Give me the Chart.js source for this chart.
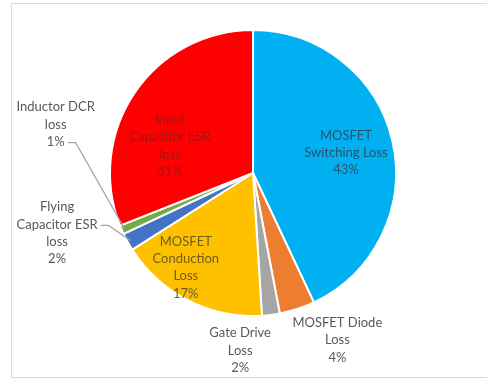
<!DOCTYPE html>
<html>
<head>
<meta charset="utf-8">
<script src="https://cdn.jsdelivr.net/npm/chart.js@4"></script>
<style>
  html, body { margin: 0; padding: 0; background: #fff; }
  #wrap { position: relative; width: 487px; height: 382px; }
  #frame { position: absolute; left: 11px; top: 3px; width: 480px; height: 375px; border: 1px solid #d9d9d9; box-sizing: border-box; }
  canvas { position: absolute; left: 0; top: 0; }
</style>
</head>
<body>
<div id="wrap">
  <div id="frame"></div>
  <canvas id="pie_chart" width="487" height="382"></canvas>
</div>
<script>
// slices, clockwise from 12 o'clock
const categories = [
    ['MOSFET', 'Switching Loss'],
    ['MOSFET Diode', 'Loss'],
    ['Gate Drive', 'Loss'],
    ['MOSFET', 'Conduction', 'Loss'],
    ['Flying', 'Capacitor ESR', 'loss'],
    ['Inductor DCR', 'loss'],
    ['Input', 'Capacitor ESR', 'loss']
];
const shares = [43, 4, 2, 17, 2, 1, 31];

const colors = ['#00b0f0', '#ed7d31', '#a5a5a5', '#ffc000', '#4472c4', '#70ad47', '#ff0000'];

// label block centre, in units of the pie radius from the pie centre
const labelOffsets = [
    [0.65, -0.14],
    [0.59, 1.17],
    [-0.09, 1.24],
    [-0.47, 0.66],
    [-1.37, 0.42],
    [-1.38, -0.34],
    [-0.58, -0.19]
];
const labelColors = ['#24546e', '#595959', '#595959', '#6e5c1c', '#595959', '#595959', '#a01515'];
// leader line: which text line it leaves from, or null
const leaderLine = [null, null, null, null, 1, 2, null];

const lineHeight = 17.3;
const labelFont = '13px Lato, "Liberation Sans", sans-serif';

const labelPlugin = {
    id: 'sliceLabels',
    afterDatasetsDraw(chart) {
        const ctx = chart.ctx;
        const meta = chart.getDatasetMeta(0);
        ctx.save();
        ctx.font = labelFont;
        ctx.textAlign = 'center';
        ctx.textBaseline = 'middle';
        meta.data.forEach((arc, i) => {
            const r = arc.outerRadius;
            const cx = arc.x + labelOffsets[i][0] * r;
            const cy = arc.y + labelOffsets[i][1] * r;
            const lines = categories[i].concat([shares[i] + '%']);
            const top = cy - (lines.length - 1) * lineHeight / 2;

            if (leaderLine[i] !== null) {
                const li = leaderLine[i];
                const ly = top + li * lineHeight;
                const w = ctx.measureText(lines[li]).width;
                const mid = (arc.startAngle + arc.endAngle) / 2;
                const ex = arc.x + Math.cos(mid) * (r - 3);
                const ey = arc.y + Math.sin(mid) * (r - 3);
                ctx.strokeStyle = '#a5a5a5';
                ctx.lineWidth = 1.2;
                ctx.beginPath();
                ctx.moveTo(cx + w / 2 + 3, ly + 1);
                ctx.lineTo(cx + w / 2 + 11, ly + 1);
                ctx.lineTo(ex, ey);
                ctx.stroke();
            }

            ctx.fillStyle = labelColors[i];
            lines.forEach((t, k) => {
                ctx.fillText(t, cx, top + k * lineHeight);
            });
        });
        ctx.restore();
    }
};

const ctx = document.getElementById('pie_chart').getContext('2d');
const pieChart = new Chart(ctx, {
    type: 'pie',
    data: {
        labels: categories.map(c => c.join(' ')),
        datasets: [{
            data: shares,
            backgroundColor: colors,
            borderColor: '#ffffff',
            borderWidth: 2
        }]
    },
    options: {
        responsive: false,
        animation: false,
        layout: {
            padding: { top: 29, bottom: 65, left: 109, right: 90 }
        },
        plugins: {
            legend: { display: false },
            tooltip: { enabled: false }
        }
    },
    plugins: [labelPlugin]
});
</script>
</body>
</html>
